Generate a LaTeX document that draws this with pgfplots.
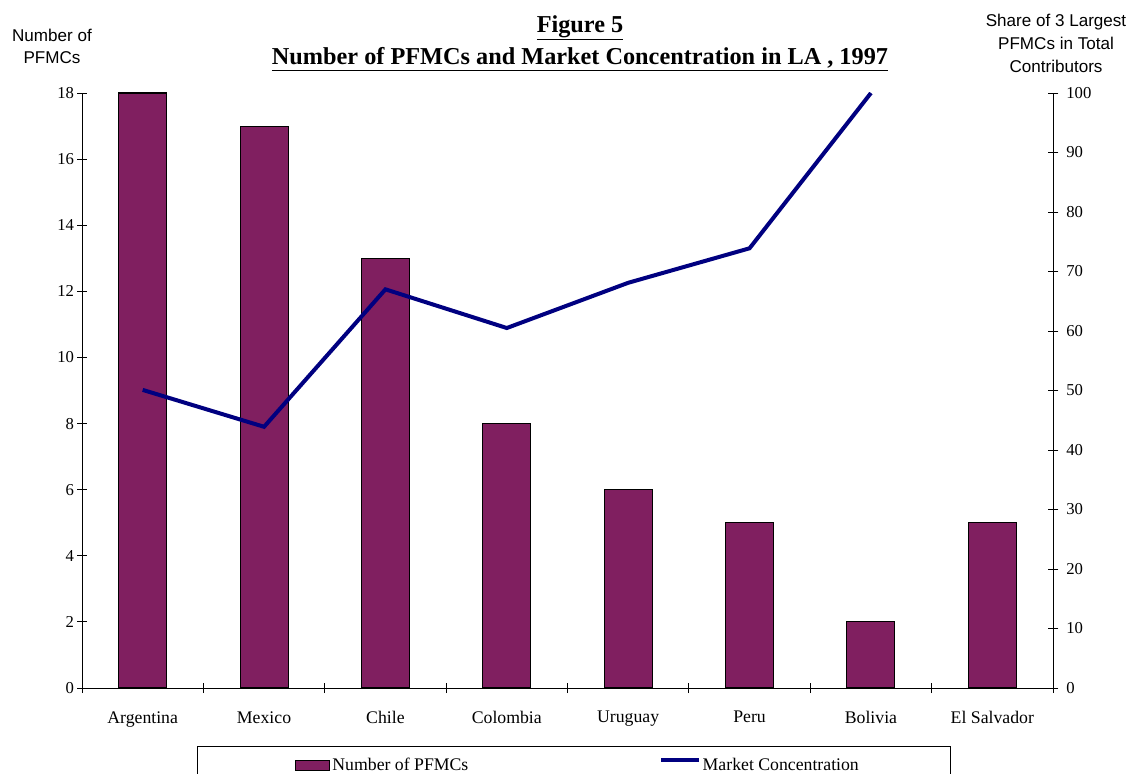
\documentclass[border=0pt]{standalone}
\usepackage{pgfplots}
\pgfplotsset{compat=1.18}
\usepackage{fontspec}
\setmainfont{Liberation Serif}
\newfontfamily\arial{Liberation Sans}
\definecolor{plum}{RGB}{128,31,96}
\definecolor{navyline}{RGB}{0,0,128}
\begin{document}
\begin{tikzpicture}
\useasboundingbox (-61.5pt,-64.5pt) rectangle (786.75pt,516pt);
\begin{axis}[
  at={(0pt,0pt)}, anchor=south west,
  scale only axis, width=728.25pt, height=446.25pt,
  xmin=-0.5, xmax=7.5, ymin=0, ymax=18,
  axis x line*=bottom, axis y line*=left,
  axis line style={-, black, line width=0.6pt},
  tick align=center,
  xtick={0,...,7},
  xticklabels={Argentina,Mexico,Chile,Colombia,Uruguay,Peru,Bolivia,El Salvador},
  major x tick style={draw=none},
  minor xtick={-0.5,0.5,...,7.5},
  minor tick length=7.5pt,
  major tick length=7pt,
  every tick/.style={black, line width=0.6pt},
  ytick={0,2,...,18},
  /pgf/number format/assume math mode=true,
  yticklabel style={font=\fontsize{12.5}{15}\selectfont, xshift=1pt},
  xticklabel style={font=\fontsize{13.3}{16}\selectfont, yshift=-10.5pt},
  legend style={at={(0.1184,-0.0975)}, anchor=north west, draw=black, line width=0.6pt,
     inner xsep=73.5pt, inner ysep=7.5pt, font=\fontsize{13.3}{16}\selectfont,
     legend columns=2, nodes={inner sep=1.5pt}},
  /tikz/every even column/.append style={column sep=141.75pt},
]
\addplot[ybar, bar width=36pt, bar shift=0pt, fill=plum, draw=black, line width=0.8pt,
  legend image code/.code={\draw[fill=plum, draw=black, line width=0.8pt] (0pt,-3.75pt) rectangle (25.5pt,3.75pt);}]
  coordinates {(0,18) (1,17) (2,13) (3,8) (4,6) (5,5) (6,2) (7,5)};
\addlegendentry{Number of PFMCs}
\addlegendimage{legend image code/.code={\draw[navyline, line width=3pt] (0pt,4pt) -- (28pt,4pt);}}
\addlegendentry{Market Concentration\hspace*{-6pt}}
\end{axis}
\begin{axis}[
  at={(0pt,0pt)}, anchor=south west,
  scale only axis, width=728.25pt, height=446.25pt,
  xmin=-0.5, xmax=7.5, ymin=0, ymax=100,
  axis y line*=right, axis x line=none,
  axis line style={-, black, line width=0.6pt},
  tick align=center,
  major tick length=8pt,
  every tick/.style={black, line width=0.6pt},
  ytick={0,10,...,100},
  /pgf/number format/assume math mode=true,
  yticklabel style={font=\fontsize{12.5}{15}\selectfont, xshift=2.5pt},
]
\addplot[navyline, line width=3pt] coordinates {(0,50.1) (1,43.9) (2,67.0) (3,60.5) (4,68.1) (5,73.9) (6,100)};
\end{axis}
\node[align=center, font=\arial\fontsize{12.8}{16.5}\selectfont] at (-22.5pt,481.5pt) {Number of\\PFMCs};
\node[align=center, font=\arial\fontsize{12.8}{17.25}\selectfont] at (730.5pt,483.75pt) {Share of 3 Largest\\PFMCs in Total\\Contributors};
\node[align=center, font=\bfseries\fontsize{18.2}{24}\selectfont] at (373.5pt,483.75pt) {\underline{Figure 5}\\\underline{Number of PFMCs and Market Concentration in LA , 1997}};
\end{tikzpicture}
\end{document}
